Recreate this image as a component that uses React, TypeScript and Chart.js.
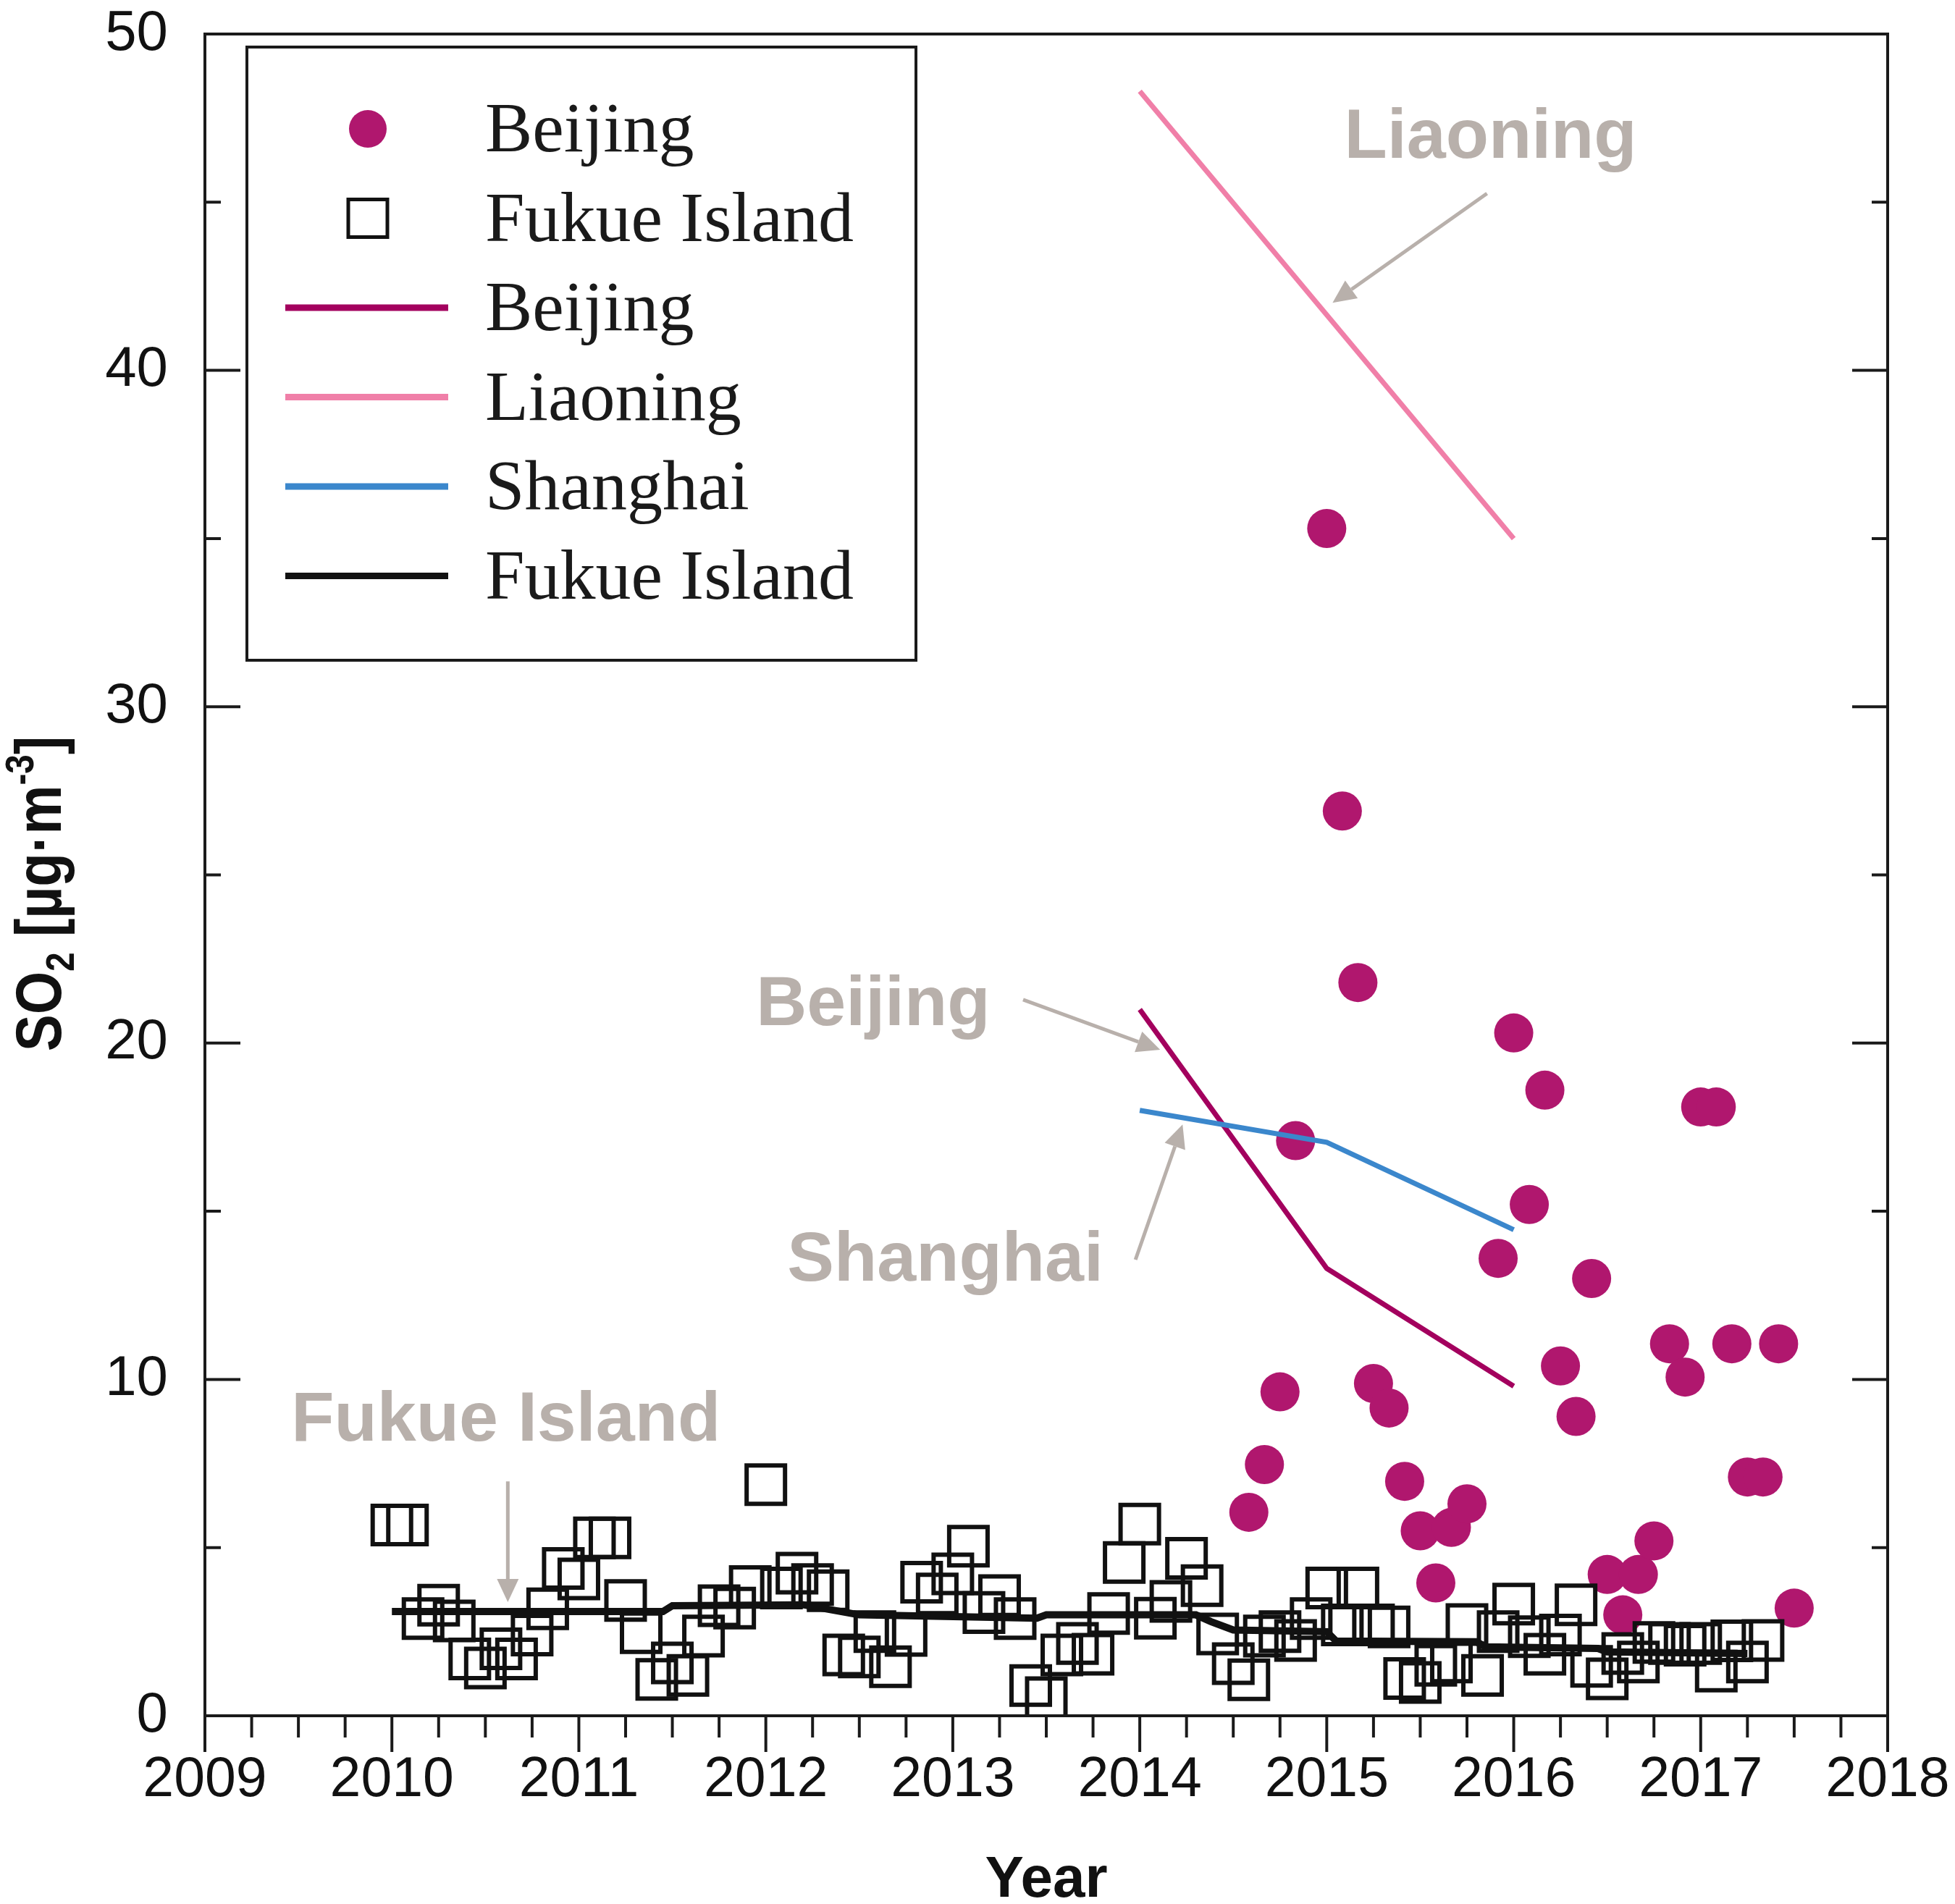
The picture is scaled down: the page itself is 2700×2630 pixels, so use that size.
import React, { useEffect, useRef } from 'react';
import { Chart, registerables } from 'chart.js';

Chart.register(...registerables);

const W = 2700;
const H = 2630;

// axis ranges / ticks
const xMin = 2009;
const xMax = 2018;
const yMin = 0;
const yMax = 50;
const xTickLabels = ['2009', '2010', '2011', '2012', '2013', '2014', '2015', '2016', '2017', '2018'];
const yTickLabels = ['0', '10', '20', '30', '40', '50'];

// Fukue Island monthly observations (from Jan 2010)
const fukueStartYear = 2010;
const fukueMonthly = [
  5.67, 5.67, 2.89, 3.29, 2.82, 1.69, 1.42, 1.99, 1.69, 2.4, 3.18, 4.38,
  4.07, 5.29, 5.29, 3.43, 2.47, 1.08, 1.57, 1.2, 2.37, 3.27, 3.2, 3.84,
  6.87, 3.8, 4.24, 3.9, 3.72, 1.81, 1.75, 2.5, 1.46, 2.39, 3.97, 3.62,
  4.22, 5.04, 3.07, 3.57, 2.89, 0.9, 0.54, 1.81, 2.15, 1.83, 3.04, 4.56,
  5.7, 2.9, 3.4, 4.68, 3.87, 2.43, 1.55, 1.07, 2.37, 2.5, 2.24, 2.89,
  3.8, 2.7, 3.8, 2.7, 2.64, 1.11, 0.99, 1.5, 1.6, 2.71, 1.2, 2.5,
  3.32, 2.35, 1.83, 2.4, 3.3, 1.47, 1.1, 1.85, 1.6, 2.18, 2.15, 2.1,
  2.15, 1.33, 2.23, 1.6, 2.24,
];

// Beijing monthly observations (from Aug 2014)
const beijingStartYear = 2014;
const beijingStartMonth = 7;
const beijingMonthly: (number | null)[] = [
  6.05, 7.47, 9.63, 17.1, null, 35.3, 26.9, 21.8, 9.88, 9.15, 6.97, 5.5,
  3.95, 5.6, 6.3, null, 13.6, 20.3, 15.2, 18.6, 10.4, 8.9, 13.0, 4.2,
  3.0, 4.2, 5.2, 11.06, 10.07, 18.1, 18.1, 11.06, 7.1, 7.1, 11.06, 3.2,
];

// annual means 2014-2016
const annualYears = [2014, 2015, 2016];
const beijingAnnual = [21.0, 13.3, 9.8];
const liaoningAnnual = [48.3, 41.65, 35.0];
const shanghaiAnnual = [18.0, 17.05, 14.45];

// Fukue Island running mean
const fukueTrendYears = [2010.0, 2011.45, 2011.5, 2012.2, 2012.5, 2013.45, 2013.5, 2014.3, 2014.38, 2014.5, 2015.0, 2015.05, 2015.8, 2015.85, 2016.45, 2016.5, 2017.25];
const fukueTrendValues = [3.1, 3.1, 3.27, 3.3, 3.0, 2.9, 3.0, 3.0, 2.8, 2.55, 2.5, 2.22, 2.2, 2.05, 2.0, 1.9, 1.85];

const legendLabels = ['Beijing', 'Fukue Island', 'Beijing', 'Liaoning', 'Shanghai', 'Fukue Island'];

const annotationTexts = ['Liaoning', 'Beijing', 'Shanghai', 'Fukue Island'];

// styles / placement (kept separate from data)
const COLORS = {
  beijingDot: '#b0176e',
  beijingLine: '#a3005e',
  liaoning: '#f07fa8',
  shanghai: '#3b87cc',
  fukue: '#111111',
  annot: '#b8b0ab',
};
const annotationPlacement = [
  { at: [2015.876, 46.9], from: [2015.857, 45.26], to: [2015.031, 42.01] },
  { at: [2012.574, 21.11], from: [2013.376, 21.29], to: [2014.109, 19.8] },
  { at: [2012.96, 13.52], from: [2013.977, 13.56], to: [2014.229, 17.58] },
  { at: [2010.61, 8.76], from: [2010.62, 6.97], to: [2010.62, 3.38] },
];

function pts(xs: number[], ys: (number | null)[]) {
  const out: { x: number; y: number }[] = [];
  xs.forEach((x, i) => {
    const y = ys[i];
    if (y !== null && y !== undefined) out.push({ x, y });
  });
  return out;
}

const fukueX = fukueMonthly.map((_, i) => fukueStartYear + i / 12);
const beijingX = beijingMonthly.map((_, i) => beijingStartYear + (beijingStartMonth + i) / 12);

function drawArrow(ctx: CanvasRenderingContext2D, x1: number, y1: number, x2: number, y2: number) {
  const ang = Math.atan2(y2 - y1, x2 - x1);
  const L = 32;
  const hw = 15;
  const bx = x2 - L * Math.cos(ang);
  const by = y2 - L * Math.sin(ang);
  ctx.beginPath();
  ctx.moveTo(x1, y1);
  ctx.lineTo(bx, by);
  ctx.stroke();
  ctx.beginPath();
  ctx.moveTo(x2, y2);
  ctx.lineTo(bx + hw * Math.sin(ang), by - hw * Math.cos(ang));
  ctx.lineTo(bx - hw * Math.sin(ang), by + hw * Math.cos(ang));
  ctx.closePath();
  ctx.fill();
}

const decorPlugin = {
  id: 'decor',
  beforeDraw(chart: any) {
    const ctx = chart.ctx;
    ctx.save();
    ctx.fillStyle = '#ffffff';
    ctx.fillRect(0, 0, chart.width, chart.height);
    ctx.restore();
  },
  afterDatasetsDraw(chart: any) {
    const ctx: CanvasRenderingContext2D = chart.ctx;
    const a = chart.chartArea;
    const xs = chart.scales.x;
    const ys = chart.scales.y;
    ctx.save();

    // annotations
    ctx.fillStyle = COLORS.annot;
    ctx.strokeStyle = COLORS.annot;
    ctx.lineWidth = 5;
    ctx.font = 'bold 97px "Liberation Sans", Arial, sans-serif';
    ctx.textAlign = 'center';
    ctx.textBaseline = 'middle';
    annotationTexts.forEach((t, i) => {
      const p = annotationPlacement[i];
      ctx.fillText(t, xs.getPixelForValue(p.at[0]), ys.getPixelForValue(p.at[1]));
      drawArrow(
        ctx,
        xs.getPixelForValue(p.from[0]), ys.getPixelForValue(p.from[1]),
        xs.getPixelForValue(p.to[0]), ys.getPixelForValue(p.to[1])
      );
    });

    // frame
    ctx.strokeStyle = '#1a1a1a';
    ctx.lineWidth = 4;
    ctx.strokeRect(a.left, a.top, a.right - a.left, a.bottom - a.top);

    // x ticks (outward)
    for (let v = xMin; v <= xMax + 1e-9; v += 0.25) {
      const px = xs.getPixelForValue(v);
      const major = Math.abs(v - Math.round(v)) < 1e-6;
      const len = major ? 50 : 30;
      ctx.beginPath();
      ctx.moveTo(px, a.bottom);
      ctx.lineTo(px, a.bottom + len);
      ctx.stroke();
    }
    // y ticks (inward, both sides)
    for (let v = yMin; v <= yMax + 1e-9; v += 5) {
      const py = ys.getPixelForValue(v);
      const major = v % 10 === 0;
      const len = major ? 49 : 22;
      ctx.beginPath();
      ctx.moveTo(a.left, py);
      ctx.lineTo(a.left + len, py);
      ctx.moveTo(a.right, py);
      ctx.lineTo(a.right - len, py);
      ctx.stroke();
    }

    // tick labels
    ctx.fillStyle = '#111';
    ctx.font = '77px "Liberation Sans", Arial, sans-serif';
    ctx.textAlign = 'center';
    ctx.textBaseline = 'middle';
    xTickLabels.forEach((t) => {
      ctx.fillText(t, xs.getPixelForValue(Number(t)), a.bottom + 90);
    });
    ctx.font = '78px "Liberation Sans", Arial, sans-serif';
    ctx.textAlign = 'right';
    yTickLabels.forEach((t) => {
      ctx.fillText(t, a.left - 51, ys.getPixelForValue(Number(t)));
    });

    // legend
    const bx = a.left + 58;
    const by = a.top + 18;
    const bw = 924;
    const bh = 847;
    ctx.fillStyle = '#ffffff';
    ctx.fillRect(bx, by, bw, bh);
    ctx.strokeStyle = '#1a1a1a';
    ctx.lineWidth = 4;
    ctx.strokeRect(bx, by, bw, bh);
    const ds = chart.data.datasets;
    const kinds = [
      { type: 'dot', ds: 5 },
      { type: 'square', ds: 4 },
      { type: 'line', ds: 2 },
      { type: 'line', ds: 0 },
      { type: 'line', ds: 1 },
      { type: 'line', ds: 3 },
    ];
    legendLabels.forEach((label, i) => {
      const cy = by + 113 + i * 123.5;
      const cx = bx + 167;
      const k = kinds[i];
      const d = ds[k.ds];
      if (k.type === 'dot') {
        ctx.fillStyle = d.backgroundColor;
        ctx.beginPath();
        ctx.arc(cx, cy, 26, 0, Math.PI * 2);
        ctx.fill();
      } else if (k.type === 'square') {
        ctx.strokeStyle = d.borderColor;
        ctx.lineWidth = 5;
        ctx.strokeRect(cx - 27, cy - 26, 54, 52);
      } else {
        ctx.strokeStyle = d.borderColor;
        ctx.lineWidth = 9;
        ctx.beginPath();
        ctx.moveTo(bx + 53, cy);
        ctx.lineTo(bx + 278, cy);
        ctx.stroke();
      }
      ctx.fillStyle = '#1a1a1a';
      ctx.font = '98px "Liberation Serif", "Times New Roman", serif';
      ctx.textAlign = 'left';
      ctx.textBaseline = 'alphabetic';
      ctx.fillText(label, bx + 329, cy + 31);
    });

    // x title
    ctx.fillStyle = '#111';
    ctx.font = 'bold 80px "Liberation Sans", Arial, sans-serif';
    ctx.textAlign = 'center';
    ctx.textBaseline = 'alphabetic';
    ctx.fillText('Year', (a.left + a.right) / 2, a.bottom + 250);

    // y title with sub/superscripts
    ctx.save();
    ctx.translate(a.left - 231, (a.top + a.bottom) / 2 + 26);
    ctx.rotate(-Math.PI / 2);
    ctx.scale(0.955, 1.12);
    const F = 80;
    const parts = [
      { t: 'SO', s: 1, dy: 0 },
      { t: '2', s: 0.62, dy: 0.2 * F },
      { t: ' [µg·m', s: 1, dy: 0 },
      { t: '-3', s: 0.62, dy: -0.42 * F },
      { t: ']', s: 1, dy: 0 },
    ];
    let total = 0;
    parts.forEach((p) => {
      ctx.font = `bold ${Math.round(F * p.s)}px "Liberation Sans", Arial, sans-serif`;
      total += ctx.measureText(p.t).width;
    });
    let x = -total / 2;
    const base = 0.358 * F;
    ctx.textAlign = 'left';
    parts.forEach((p) => {
      ctx.font = `bold ${Math.round(F * p.s)}px "Liberation Sans", Arial, sans-serif`;
      ctx.fillText(p.t, x, base + p.dy);
      x += ctx.measureText(p.t).width;
    });
    ctx.restore();

    ctx.restore();
  },
};

export default function App() {
  const ref = useRef<HTMLCanvasElement | null>(null);

  useEffect(() => {
    if (!ref.current) return;
    const chart = new Chart(ref.current, {
      type: 'scatter',
      data: {
        datasets: [
          {
            label: 'Liaoning',
            data: pts(annualYears, liaoningAnnual),
            showLine: true,
            borderColor: COLORS.liaoning,
            backgroundColor: COLORS.liaoning,
            borderWidth: 7,
            pointRadius: 0,
            order: 0,
          },
          {
            label: 'Shanghai',
            data: pts(annualYears, shanghaiAnnual),
            showLine: true,
            borderColor: COLORS.shanghai,
            backgroundColor: COLORS.shanghai,
            borderWidth: 7,
            pointRadius: 0,
            order: 1,
          },
          {
            label: 'Beijing (annual)',
            data: pts(annualYears, beijingAnnual),
            showLine: true,
            borderColor: COLORS.beijingLine,
            backgroundColor: COLORS.beijingLine,
            borderWidth: 7,
            pointRadius: 0,
            order: 2,
          },
          {
            label: 'Fukue Island (trend)',
            data: pts(fukueTrendYears, fukueTrendValues),
            showLine: true,
            borderColor: COLORS.fukue,
            backgroundColor: COLORS.fukue,
            borderWidth: 10,
            pointRadius: 0,
            order: 3,
          },
          {
            label: 'Fukue Island',
            data: pts(fukueX, fukueMonthly),
            showLine: false,
            pointStyle: 'rect',
            pointRadius: 37.5,
            borderWidth: 6,
            borderColor: COLORS.fukue,
            backgroundColor: 'rgba(0,0,0,0)',
            order: 4,
          },
          {
            label: 'Beijing',
            data: pts(beijingX, beijingMonthly),
            showLine: false,
            pointStyle: 'circle',
            pointRadius: 27,
            borderWidth: 0,
            borderColor: COLORS.beijingDot,
            backgroundColor: COLORS.beijingDot,
            order: 5,
          },
        ],
      },
      options: {
        animation: false,
        responsive: false,
        devicePixelRatio: 1,
        events: [],
        layout: { padding: { top: 47, right: 93, left: 0, bottom: 0 } },
        plugins: { legend: { display: false }, tooltip: { enabled: false } },
        scales: {
          x: {
            type: 'linear',
            min: xMin,
            max: xMax,
            grid: { display: false, drawTicks: false },
            border: { display: false },
            ticks: { display: false, stepSize: 1 },
            afterFit: (s: any) => {
              s.height = 260;
              s.paddingLeft = 0;
              s.paddingRight = 0;
            },
          },
          y: {
            type: 'linear',
            min: yMin,
            max: yMax,
            grid: { display: false, drawTicks: false },
            border: { display: false },
            ticks: { display: false, stepSize: 10 },
            afterFit: (s: any) => {
              s.width = 283;
              s.paddingTop = 0;
              s.paddingBottom = 0;
            },
          },
        },
      },
      plugins: [decorPlugin],
    });
    return () => chart.destroy();
  }, []);

  return (
    <div style={{ position: 'absolute', left: 0, top: 0, width: W, height: H, overflow: 'hidden', background: '#fff' }}>
      <canvas ref={ref} width={W} height={H} style={{ width: W, height: H, display: 'block' }} />
    </div>
  );
}
